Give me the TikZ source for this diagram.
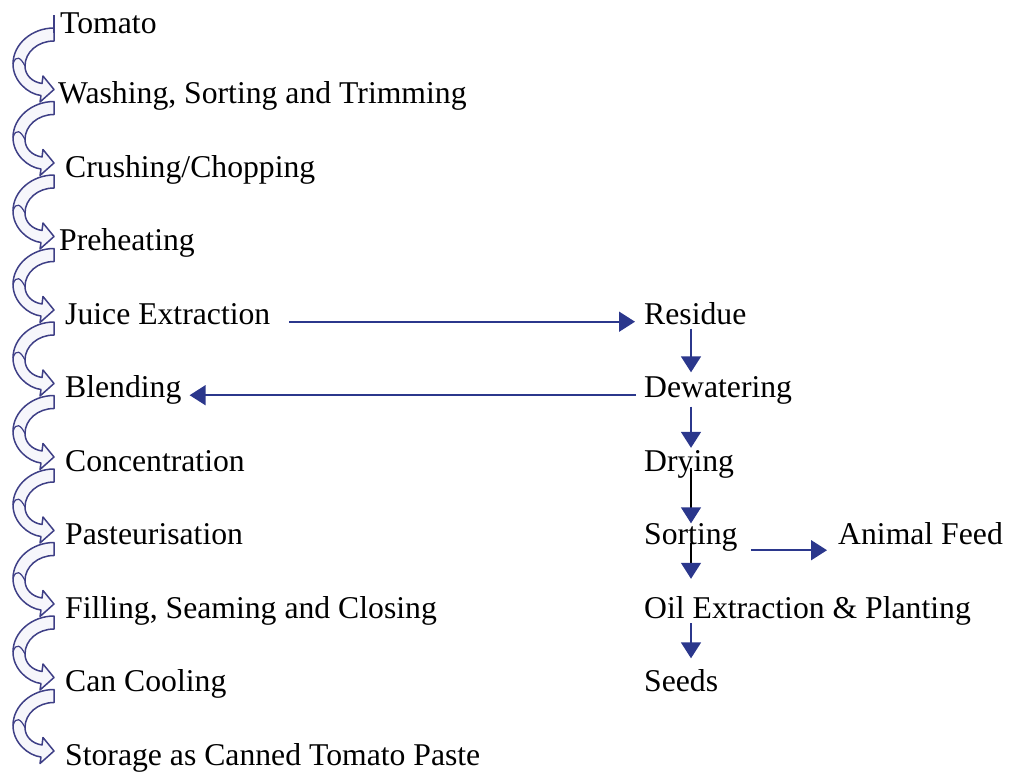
\documentclass[tikz,border=0pt]{standalone}
\usepackage{fontspec}
\setmainfont{Liberation Serif}
\usetikzlibrary{arrows.meta}
\definecolor{navy}{HTML}{2B378C}
\definecolor{bandline}{HTML}{3E3F86}
\definecolor{bandfill}{HTML}{F6F6FB}
\tikzset{
  lbl/.style={anchor=base west,inner sep=0pt,font=\fontsize{31.7}{31.7}\selectfont},
  conn/.style={draw=navy,line width=1.7pt,-{Triangle[length=16pt,width=20pt,color=navy]}},
  darkconn/.style={draw=black,line width=1.4pt,-{Triangle[length=16pt,width=20pt,color=navy]}},
  band/.style={draw=bandline,fill=bandfill,line width=1.5pt,line join=round}
}
\newcommand{\curvedarrow}[1]{%
  \path[band] (54,#1+6) .. controls (32,#1+6) and (13,#1+22) .. (13,#1+42)
    .. controls (13,#1+59) and (28,#1+72) .. (41,#1+73.5)
    -- (40,#1+80) -- (54,#1+67.5) -- (43,#1+54) -- (42,#1+61.5)
    .. controls (32,#1+60) and (25,#1+53) .. (25,#1+44)
    .. controls (25,#1+30) and (38,#1+19) .. (54,#1+19) -- cycle;
  \draw[bandline,line width=1.2pt] (25,#1+44) .. controls (21,#1+36) and (16,#1+32) .. (13,#1+42);
}
\begin{document}
\begin{tikzpicture}[x=1pt,y=-1pt]
\useasboundingbox (0,0) rectangle (1012,774);
% curved arrows on the left
\foreach \i in {0,...,9}{
  \pgfmathsetmacro{\T}{22+73.5*\i}
  \curvedarrow{\T}
}
\draw[bandline,line width=1.5pt] (54,15) -- (54,33);
% left column
\node[lbl] (n0) at (60,33) {Tomato};
\node[lbl] (n1) at (58,103.5) {Washing, Sorting and Trimming};
\node[lbl] (n2) at (65,177) {Crushing/Chopping};
\node[lbl] (n3) at (59,250.5) {Preheating};
\node[lbl] (n4) at (65,324) {Juice Extraction};
\node[lbl] (n5) at (65,397.5) {Blending};
\node[lbl] (n6) at (65,471) {Concentration};
\node[lbl] (n7) at (65,544.5) {Pasteurisation};
\node[lbl] (n8) at (65,618) {Filling, Seaming and Closing};
\node[lbl] (n9) at (65,691.5) {Can Cooling};
\node[lbl] (n10) at (65,765) {Storage as Canned Tomato Paste};
% right column
\node[lbl] (r1) at (644,324) {Residue};
\node[lbl] (r2) at (644,397.5) {Dewatering};
\node[lbl] (r3) at (644,471) {Drying};
\node[lbl] (r4) at (644,544.5) {Sorting};
\node[lbl] (r5) at (644,618) {Oil Extraction \& Planting};
\node[lbl] (r6) at (644,691.5) {Seeds};
\node[lbl] (feed) at (838,544.5) {Animal Feed};
\coordinate (vx) at (691,0);
% connectors
\draw[conn,shorten <=19pt,shorten >=9pt] (n4.mid east) -- (r1.mid west);
\draw[conn,shorten <=8pt,shorten >=8pt] (r2.mid west) -- (n5.mid east);
\draw[conn] ([yshift=-4pt]r1.south -| vx) -- ([yshift=4pt]r2.north -| vx);
\draw[conn] ([yshift=-2pt]r2.south -| vx) -- ([yshift=2pt]r3.north -| vx);
\draw[darkconn] ([yshift=-18pt]r3.north -| vx) -- (r4.north -| vx);
\draw[darkconn] ([yshift=2pt]r4.base -| vx) -- ([yshift=17pt]r5.north -| vx);
\draw[conn] ([yshift=2pt]r5.south -| vx) -- ([yshift=11pt]r6.north -| vx);
\draw[conn,shorten <=13pt,shorten >=11pt] ([yshift=-8pt]r4.mid east) -- ([yshift=-8pt]feed.mid west);
\end{tikzpicture}
\end{document}
